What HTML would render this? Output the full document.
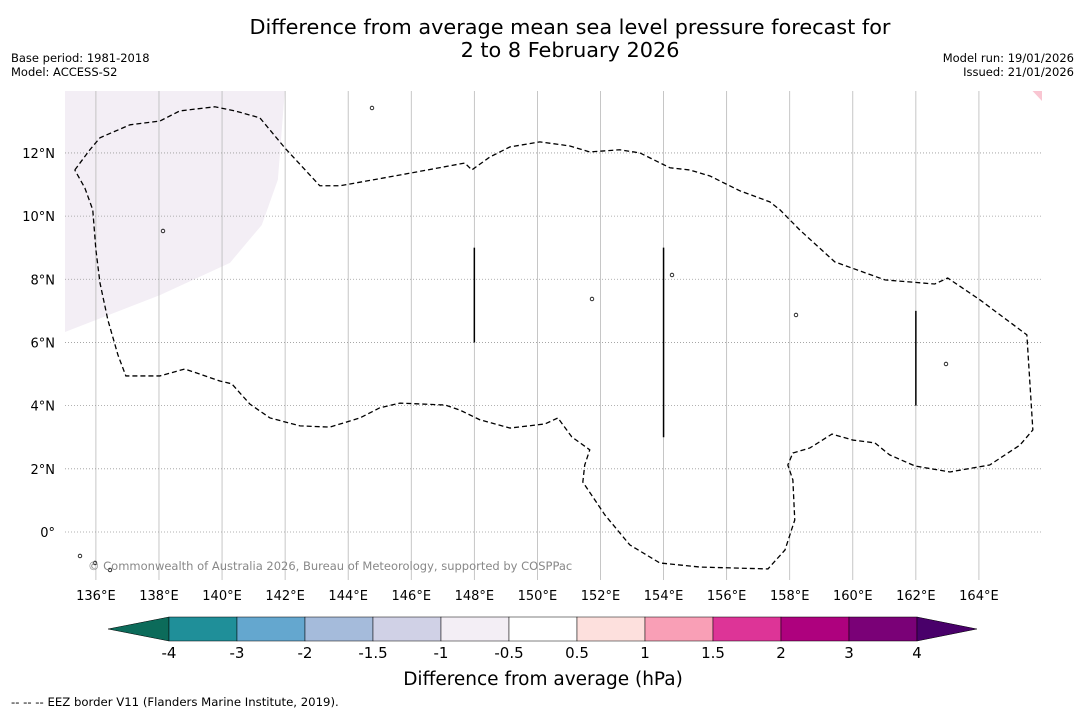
<!DOCTYPE html>
<html><head><meta charset="utf-8">
<style>
body{margin:0;background:#fff;width:1085px;height:713px;overflow:hidden;font-family:"DejaVu Sans","Liberation Sans",sans-serif;}
svg{display:block}
</style></head>
<body>
<svg id="chart" width="1085" height="713" viewBox="0 0 1085 713" font-family="DejaVu Sans, Liberation Sans, sans-serif">
<text x="570" y="34" font-size="20.8" text-anchor="middle">Difference from average mean sea level pressure forecast for</text>
<text x="570" y="57" font-size="20.8" text-anchor="middle">2 to 8 February 2026</text>
<text x="11" y="62" font-size="11.5">Base period: 1981-2018</text>
<text x="11" y="76" font-size="11.5">Model: ACCESS-S2</text>
<text x="1074" y="62" font-size="11.5" text-anchor="end">Model run: 19/01/2026</text>
<text x="1074" y="76" font-size="11.5" text-anchor="end">Issued: 21/01/2026</text>
<g id="map"></g>
<g id="cbar"></g>
<text x="543" y="685" font-size="18.5" text-anchor="middle">Difference from average (hPa)</text>
<text x="11" y="706" font-size="11.7">--  --  -- EEZ border V11 (Flanders Marine Institute, 2019).</text>
</svg>
<script>
const lonTicks=[136,138,140,142,144,146,148,150,152,154,156,158,160,162,164];
const latTicks=[0,2,4,6,8,10,12];
const eezLon=[135.33,135.81,136.13,137.08,138.03,138.66,139.77,140.41,141.20,141.99,143.10,143.74,145.64,147.70,147.92,148.49,149.13,150.08,151.03,151.66,152.61,153.25,154.20,154.83,155.47,156.42,157.37,157.69,158.32,159.43,161.02,162.60,163.01,164.03,165.52,165.71,165.30,164.34,163.08,161.97,161.17,160.70,160.00,159.34,158.64,158.10,157.94,158.10,158.16,157.85,157.31,155.15,153.88,152.93,152.14,151.44,151.50,151.66,151.09,150.65,150.24,149.13,148.18,147.54,147.07,145.64,145.00,144.37,143.42,142.47,141.52,140.88,140.31,139.93,138.82,138.03,136.95,136.70,136.38,136.13,136.00,135.90,135.65,135.33];
const eezLat=[11.46,12.10,12.48,12.89,13.01,13.33,13.46,13.33,13.11,12.16,10.96,10.96,11.30,11.68,11.46,11.87,12.19,12.35,12.22,12.03,12.10,12.00,11.53,11.46,11.27,10.80,10.45,10.20,9.56,8.55,7.98,7.85,8.04,7.35,6.24,3.23,2.75,2.12,1.90,2.09,2.44,2.82,2.91,3.10,2.66,2.50,2.12,1.65,0.38,-0.57,-1.17,-1.11,-0.98,-0.41,0.54,1.58,2.12,2.60,3.01,3.61,3.42,3.29,3.55,3.86,4.02,4.08,3.93,3.61,3.32,3.36,3.61,4.05,4.69,4.78,5.16,4.94,4.94,5.60,6.71,7.88,8.93,10.20,10.89,11.46];
const shadeLon=[135.02,141.99,141.77,141.26,140.25,138.03,135.02];
const shadeLat=[13.96,13.96,11.15,9.72,8.52,7.50,6.33];
const segLon=[148,154,162];
const segLat0=[6,3,4];
const segLat1=[9,9,7];
const cbLevels=[-4,-3,-2,-1.5,-1,-0.5,0.5,1,1.5,2,3,4];
const cbColors=["#1f8f99","#64a7cf","#a5bbdb","#d0d1e6","#f3eef5","#ffffff","#fde0dd","#f99fb6","#dd3497","#ae017e","#7a0177"];
const cbLow="#0c6b5a", cbHigh="#49006a";

const NS="http://www.w3.org/2000/svg";
const X0=65,X1=1042,Y0=91,Y1=580;
const lonMin=135.02,lonMax=166.0,latMin=-1.52,latMax=13.96;
const xs=l=>X0+(l-lonMin)/(lonMax-lonMin)*(X1-X0);
const ys=l=>Y1-(l-latMin)/(latMax-latMin)*(Y1-Y0);
function mk(t,a,p){const e=document.createElementNS(NS,t);for(const k in a)e.setAttribute(k,a[k]);p.appendChild(e);return e;}
const map=document.getElementById('map');

const shade=mk('polygon',{points:shadeLon.map((l,i)=>xs(l)+','+ys(shadeLat[i])).join(' '),fill:cbColors[4]},map);


const corner=mk('polygon',{points:`${xs(165.7)},${Y0} ${X1},${Y0} ${X1},${Y0+10}`,fill:"#f9c6d2"},map);



lonTicks.forEach(l=>{
  const g=mk('line',{x1:xs(l),x2:xs(l),y1:Y0,y2:Y1,stroke:"#b8b8b8","stroke-width":0.8},map);
  
  
  const t=mk('text',{x:xs(l),y:Y1+20,"font-size":13,"text-anchor":"middle"},map);
  t.textContent=l+'°E';
  
  
});
latTicks.forEach(l=>{
  const g=mk('line',{x1:X0,x2:X1,y1:ys(l),y2:ys(l),stroke:"#999","stroke-width":0.8,"stroke-dasharray":"1,2"},map);
  
  
  const t=mk('text',{x:X0-10,y:ys(l)+5,"font-size":13,"text-anchor":"end"},map);
  t.textContent=l===0?'0°':l+'°N';
  
  
});

const eez=mk('polyline',{points:eezLon.map((l,i)=>xs(l)+','+ys(eezLat[i])).join(' '),fill:"none",stroke:"#000","stroke-width":1.3,"stroke-dasharray":"5,3"},map);



segLon.forEach((l,i)=>{
  const s=mk('line',{x1:xs(l),x2:xs(l),y1:ys(segLat0[i]),y2:ys(segLat1[i]),stroke:"#000","stroke-width":1.5},map);
  
  
});

[[372,108],[163,231],[592,299],[796,315],[946,364],[672,275],[80,556],[95,563],[110,570]].forEach(p=>{
  const c=mk('circle',{cx:p[0],cy:p[1],r:1.8,fill:"none",stroke:"#000","stroke-width":0.8},map);
  
  
});

const cr=mk('text',{x:88,y:570,"font-size":11.5,fill:"#888"},map);
cr.textContent='© Commonwealth of Australia 2026, Bureau of Meteorology, supported by COSPPac';



const cb=document.getElementById('cbar');
const CB0=169,CBW=68,CBY=617,CBH=24;
const cx=i=>CB0+i*CBW;
const lt=mk('polygon',{points:`108,${CBY+CBH/2} ${CB0},${CBY} ${CB0},${CBY+CBH}`,fill:cbLow,stroke:"#000","stroke-width":0.5},cb);


cbColors.forEach((c,i)=>{
  const r=mk('rect',{x:cx(i),y:CBY,width:CBW,height:CBH,fill:c,stroke:"#000","stroke-width":0.5},cb);
  
  
});
const last=cx(cbColors.length);
const rt=mk('polygon',{points:`${last},${CBY} 977,${CBY+CBH/2} ${last},${CBY+CBH}`,fill:cbHigh,stroke:"#000","stroke-width":0.5},cb);


cbLevels.forEach((v,i)=>{
  const t=mk('text',{x:cx(i),y:658,"font-size":15,"text-anchor":"middle"},cb);
  t.textContent=String(v);
  
  
});
</script>
</body></html>
